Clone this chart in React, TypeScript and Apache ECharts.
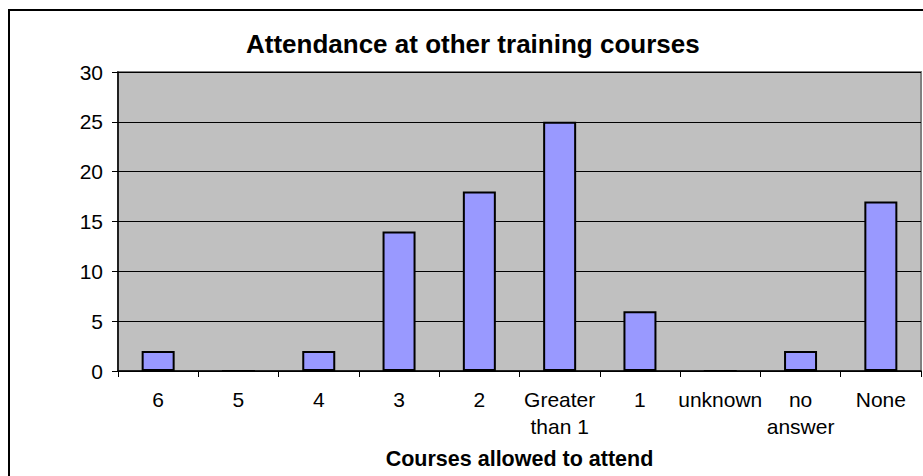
import React, { useEffect, useRef } from "react";
import * as echarts from "echarts";

const categories = ["6", "5", "4", "3", "2", "Greater\nthan 1", "1", "unknown", "no\nanswer", "None"];
const values = [2, 0, 2, 14, 18, 25, 6, 0, 2, 17];
const yTicks = { min: 0, max: 30, interval: 5 };
const titleText = "Attendance at other training courses";
const xAxisTitle = "Courses allowed to attend";

const FONT = "'Liberation Sans', Arial, sans-serif";

export default function App() {
  const ref = useRef<HTMLDivElement>(null);
  useEffect(() => {
    if (!ref.current) return;
    const chart = echarts.init(ref.current, undefined, { renderer: "svg" });
    chart.setOption({
      animation: false,
      backgroundColor: "#ffffff",
      textStyle: { fontFamily: FONT },
      title: {
        text: titleText,
        left: 246,
        top: 31,
        padding: 0,
        textStyle: { fontFamily: FONT, fontSize: 26, fontWeight: "bold", color: "#000" },
      },
      graphic: [
        {
          type: "rect",
          shape: { x: 9, y: 10, width: 2000, height: 2000 },
          style: { fill: "none", stroke: "#000", lineWidth: 2 },
          z: -1,
          silent: true,
        },
      ],
      grid: {
        left: 118,
        top: 72,
        right: 2,
        bottom: 105,
        show: true,
        backgroundColor: "#C0C0C0",
        borderColor: "#808080",
        borderWidth: 2,
      },
      xAxis: {
        type: "category",
        data: categories,
        boundaryGap: true,
        name: xAxisTitle,
        nameLocation: "middle",
        nameGap: 77,
        nameTextStyle: { fontFamily: FONT, fontSize: 21.5, fontWeight: "bold", color: "#000" },
        axisLine: { show: true, lineStyle: { color: "#000", width: 1.5 } },
        axisTick: { show: true, length: 6, alignWithLabel: false, lineStyle: { color: "#000", width: 1 } },
        axisLabel: {
          fontFamily: FONT,
          fontSize: 21,
          color: "#000",
          margin: 15,
          lineHeight: 27,
          interval: 0,
        },
        splitLine: { show: false },
      },
      yAxis: {
        type: "value",
        min: yTicks.min,
        max: yTicks.max,
        interval: yTicks.interval,
        axisLine: { show: true, lineStyle: { color: "#000", width: 1.5 } },
        axisTick: { show: true, length: 6, lineStyle: { color: "#000", width: 1 } },
        axisLabel: { fontFamily: FONT, fontSize: 21, color: "#000", margin: 15 },
        splitLine: { show: true, lineStyle: { color: "#000", width: 1 } },
      },
      series: [
        {
          type: "bar",
          data: values,
          barWidth: 33,
          itemStyle: { color: "#9999FF", borderColor: "#000", borderWidth: 2 },
        },
      ],
    });
    return () => chart.dispose();
  }, []);
  return (
    <div
      ref={ref}
      style={{ position: "absolute", left: 0, top: 0, width: 923, height: 476 }}
    />
  );
}
